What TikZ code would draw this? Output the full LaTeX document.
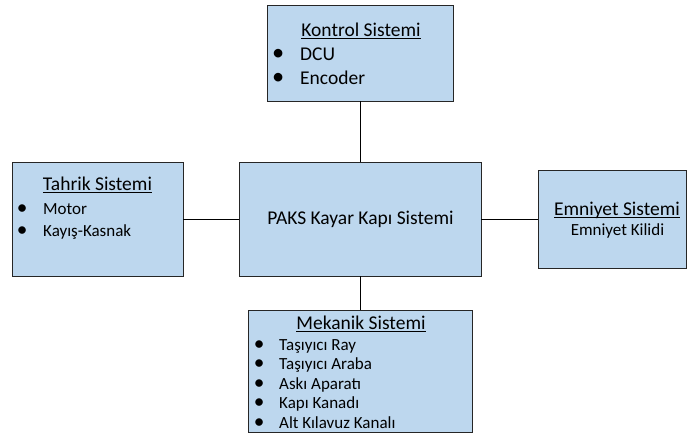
\documentclass[tikz,border=0pt]{standalone}
\usepackage{fontspec}
\setmainfont{Carlito}
\usetikzlibrary{positioning}
\definecolor{boxblue}{RGB}{189,215,238}
\tikzset{
block/.style = {draw=black!85, fill=boxblue, line width=0.9pt, rectangle},
title/.style = {font=\fontsize{19.5}{23}\selectfont, inner sep=0pt},
items/.style = {align=left, inner sep=0pt, anchor=north west},
conn/.style = {draw=black, line width=0.8pt},
}
\newcommand{\bul}[1][21pt]{\makebox[0pt]{\scalebox{1.25}{\textbullet}}\hspace{#1}}
\newcommand{\ttl}[1]{\underline{\raisebox{0pt}[\height][0pt]{#1}}}

\begin{document}
\begin{tikzpicture}[x=1pt, y=-1pt]
	\useasboundingbox (0,0) rectangle (687,438);

	\node[block, minimum width=186pt, minimum height=96pt] (Kontrol) at (360,53) {};
	\node[block, minimum width=242pt, minimum height=114pt] (PAKS) at (360,219) {};
	\node[block, minimum width=171pt, minimum height=114pt] (Tahrik) at (97.5,219) {};
	\node[block, minimum width=148pt, minimum height=98pt] (Emniyet) at (612,219) {};
	\node[block, minimum width=224pt, minimum height=122pt] (Mekanik) at (360,371) {};

	\node[title] (PAKS_T) at (360.5,219) {PAKS Kayar Kap\i{} Sistemi};

	\node[title] (Kontrol_T) at (361,31) {\ttl{Kontrol Sistemi}};
	\node[items, font=\fontsize{19.5}{24}\selectfont] (Kontrol_L) at (278,48) {\bul[22pt]DCU\\ \bul[22pt]Encoder};

	\node[title] (Tahrik_T) at (97.5,185) {\ttl{Tahrik Sistemi}};
	\node[items, font=\fontsize{17}{22}\selectfont] (Tahrik_L) at (22,203) {\bul Motor\\ \bul Kay\i{}ş-Kasnak};

	\node[title] (Emniyet_T) at (617,210) {\ttl{Emniyet Sistemi}};
	\node[title, font=\fontsize{17}{20}\selectfont] (Emniyet_L) at (617.5,231) {Emniyet Kilidi};

	\node[title] (Mekanik_T) at (361,324) {\ttl{Mekanik Sistemi}};
	\node[items, font=\fontsize{17}{19.5}\selectfont] (Mekanik_L) at (259,339) {\bul[20pt]Taşıyıcı Ray\\ \bul[20pt]Taşıyıcı Araba\\ \bul[20pt]Askı Aparatı\\ \bul[20pt]Kapı Kanadı\\ \bul[20pt]Alt Kılavuz Kanalı};

	\draw[conn] (Kontrol.south) -- (PAKS.north);
	\draw[conn] (PAKS.south) -- (Mekanik.north);
	\draw[conn] (Tahrik.east) -- (PAKS.west);
	\draw[conn] (PAKS.east) -- (Emniyet.west);

\end{tikzpicture}
\end{document}
